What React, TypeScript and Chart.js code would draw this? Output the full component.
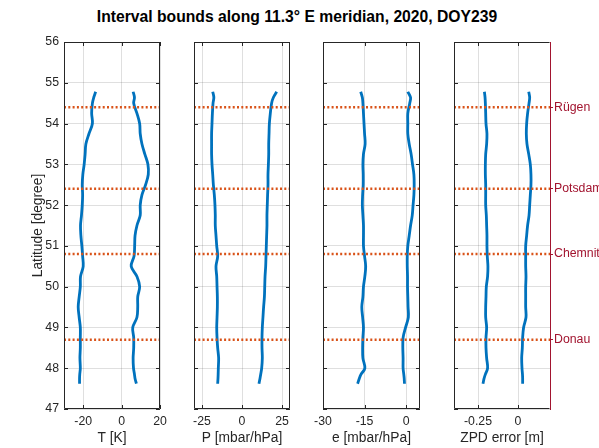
import React, { useEffect, useRef } from 'react';
import { Chart, registerables } from 'chart.js';

Chart.register(...registerables);

const W = 599;
const H = 448;

// Latitudes at which the bound curves were sampled
const LAT = [54.78, 54.64, 54.5, 54.25, 54.0, 53.75, 53.5, 53.25, 53.0, 52.75, 52.5, 52.25, 52.0, 51.75, 51.5, 51.25, 51.0, 50.75, 50.5, 50.25, 50.0, 49.75, 49.5, 49.25, 49.0, 48.75, 48.5, 48.25, 48.0, 47.85, 47.75, 47.62];

const T_LOW = [-13.5, -14.5, -15.2, -15.6, -15.2, -17.0, -18.6, -19.0, -19.5, -20.2, -20.5, -20.3, -20.5, -20.9, -21.4, -21.2, -20.7, -20.3, -20.0, -21.4, -21.5, -22.1, -22.6, -22.1, -21.5, -21.5, -21.5, -21.7, -21.5, -21.8, -21.9, -21.9];
const T_HIGH = [6.0, 6.7, 6.3, 8.0, 9.4, 9.7, 10.6, 12.1, 13.7, 13.9, 12.5, 10.6, 9.7, 9.7, 8.0, 7.0, 6.8, 6.5, 5.0, 8.0, 9.4, 8.4, 8.4, 8.0, 5.8, 6.3, 6.3, 6.0, 6.2, 6.7, 7.0, 7.7];

const P_LOW = [-18.3, -17.6, -18.1, -18.5, -18.75, -19.0, -19.0, -19.0, -18.75, -18.3, -17.9, -17.3, -16.9, -16.7, -16.7, -16.25, -15.8, -15.2, -16.25, -15.8, -15.6, -15.4, -15.4, -15.6, -15.8, -15.6, -15.2, -14.6, -14.8, -14.9, -15.0, -15.2];
const P_HIGH = [21.7, 19.6, 18.5, 17.7, 17.1, 16.9, 16.7, 16.7, 16.5, 16.25, 16.25, 16.0, 15.8, 15.6, 15.6, 15.4, 15.2, 15.0, 14.8, 14.4, 14.2, 14.0, 13.5, 13.1, 12.7, 12.5, 12.5, 12.7, 12.3, 11.7, 11.25, 10.6];

const E_LOW = [-16.4, -15.8, -15.6, -15.4, -15.2, -15.0, -14.8, -15.4, -15.6, -15.5, -15.5, -15.7, -15.8, -15.6, -15.4, -15.4, -15.4, -15.0, -14.6, -14.9, -15.4, -15.6, -16.0, -15.7, -15.4, -15.6, -15.7, -15.6, -14.9, -16.3, -16.9, -17.5];
const E_HIGH = [0.6, 1.6, 1.3, 0.6, 0.6, 0.6, 1.1, 1.8, 2.3, 2.8, 2.9, 2.8, 2.5, 2.2, 1.6, 1.1, 0.6, 0.4, 0.4, 0.5, 0.5, 0.6, 0.7, 0.8, -0.2, -1.1, -1.2, -1.1, -1.1, -0.85, -0.7, -0.6];

const ZPD_LOW = [-0.21, -0.206, -0.204, -0.202, -0.2, -0.194, -0.196, -0.202, -0.204, -0.204, -0.202, -0.202, -0.202, -0.198, -0.196, -0.194, -0.194, -0.192, -0.188, -0.19, -0.198, -0.2, -0.202, -0.202, -0.196, -0.2, -0.2, -0.196, -0.19, -0.204, -0.212, -0.219];
const ZPD_HIGH = [0.067, 0.073, 0.069, 0.06, 0.054, 0.052, 0.056, 0.067, 0.077, 0.081, 0.081, 0.077, 0.073, 0.069, 0.06, 0.054, 0.048, 0.048, 0.048, 0.05, 0.048, 0.048, 0.048, 0.05, 0.035, 0.029, 0.027, 0.023, 0.025, 0.028, 0.029, 0.029];

const STATION_LAT = [54.4, 52.4, 50.8, 48.7];
const STATION_NAMES = ['Rügen', 'Potsdam', 'Chemnitz', 'Donau'];

const Y_TICKS = [47, 48, 49, 50, 51, 52, 53, 54, 55, 56];
const Y_RANGE = [47, 56];

const T_TICKS = [-20, 0, 20];
const P_TICKS = [-25, 0, 25];
const E_TICKS = [-30, -15, 0];
const ZPD_TICKS = [-0.25, 0];

const T_RANGE = [-30, 20];
const P_RANGE = [-30, 30];
const E_RANGE = [-30, 5];
const ZPD_RANGE = [-0.4, 0.2];

const X_LABELS = ['T [K]', 'P [mbar/hPa]', 'e [mbar/hPa]', 'ZPD error [m]'];
const Y_LABEL = 'Latitude [degree]';
const TITLE = 'Interval bounds along 11.3° E meridian, 2020, DOY239';

const PANELS = [
  { low: T_LOW, high: T_HIGH, range: T_RANGE, ticks: T_TICKS },
  { low: P_LOW, high: P_HIGH, range: P_RANGE, ticks: P_TICKS },
  { low: E_LOW, high: E_HIGH, range: E_RANGE, ticks: E_TICKS },
  { low: ZPD_LOW, high: ZPD_HIGH, range: ZPD_RANGE, ticks: ZPD_TICKS },
];

// layout (pixel positions of each plot box)
const BOX_LEFT = [64, 194, 323, 454];
const BOX_RIGHT = [160, 290, 420, 550];
const BOX_TOP = 42;
const BOX_BOTTOM = 409;

const BLUE = '#0072BD';
const ORANGE = '#D95319';
const CRIMSON = '#A2142F';
const AXIS = '#262626';
const GRID = 'rgba(38,38,38,0.15)';
const FONT = '"Liberation Sans", Arial, Helvetica, sans-serif';

const framePlugin = {
  id: 'frame',
  afterDraw(chart: any, _args: any, opts: any) {
    const { ctx, chartArea } = chart;
    const { left, right, top, bottom } = chartArea;
    const xs = chart.scales.x;
    const ys = chart.scales.y;
    const L = 4;
    ctx.save();
    ctx.strokeStyle = AXIS;
    ctx.lineWidth = 1;
    ctx.beginPath();
    for (const t of xs.ticks) {
      const px = Math.round(xs.getPixelForValue(t.value)) + 0.5;
      ctx.moveTo(px, bottom);
      ctx.lineTo(px, bottom - L);
      ctx.moveTo(px, top);
      ctx.lineTo(px, top + L);
    }
    for (const t of ys.ticks) {
      const py = Math.round(ys.getPixelForValue(t.value)) + 0.5;
      ctx.moveTo(left, py);
      ctx.lineTo(left + L, py);
      if (!opts.noRight) {
        ctx.moveTo(right, py);
        ctx.lineTo(right - L, py);
      }
    }
    const l = Math.round(left) + 0.5;
    const r = Math.round(right) - 0.5;
    const t = Math.round(top) + 0.5;
    const b = Math.round(bottom) - 0.5;
    ctx.moveTo(l, b);
    ctx.lineTo(l, t);
    ctx.lineTo(r, t);
    if (!opts.noRight) ctx.lineTo(r, b);
    ctx.moveTo(l, b);
    ctx.lineTo(r, b);
    ctx.stroke();
    ctx.restore();
  },
};

function Panel({ idx }: { idx: number }) {
  const ref = useRef<HTMLCanvasElement | null>(null);
  useEffect(() => {
    const p = PANELS[idx];
    const first = idx === 0;
    const last = idx === PANELS.length - 1;
    const yWidth = first ? BOX_LEFT[0] : 0;
    const y2Width = last ? W - BOX_RIGHT[idx] : 0;
    const toPts = (vals: number[]) => vals.map((v, i) => ({ x: v, y: LAT[i] }));

    const datasets: any[] = [
      ...STATION_LAT.map((lat) => ({
        data: [
          { x: p.range[0], y: lat },
          { x: p.range[1], y: lat },
        ],
        borderColor: ORANGE,
        borderWidth: 2.5,
        borderDash: [2, 2.3],
        showLine: true,
        pointRadius: 0,
        tension: 0,
        order: 0,
      })),
      {
        data: toPts(p.low),
        borderColor: BLUE,
        borderWidth: 2.8,
        showLine: true,
        pointRadius: 0,
        tension: 0.35,
        order: 1,
      },
      {
        data: toPts(p.high),
        borderColor: BLUE,
        borderWidth: 2.8,
        showLine: true,
        pointRadius: 0,
        tension: 0.35,
        order: 1,
      },
    ];

    const scales: any = {
      x: {
        type: 'linear',
        min: p.range[0],
        max: p.range[1],
        afterBuildTicks: (s: any) => {
          s.ticks = p.ticks.map((v) => ({ value: v }));
        },
        afterFit: (s: any) => {
          s.height = H - BOX_BOTTOM;
        },
        grid: { color: GRID, drawTicks: false, lineWidth: 1 },
        border: { display: false },
        ticks: {
          color: AXIS,
          font: { family: FONT, size: 12.3 },
          padding: 5,
          maxRotation: 0,
          autoSkip: false,
          callback: (v: any) => String(v),
        },
        title: {
          display: true,
          text: X_LABELS[idx],
          color: AXIS,
          font: { family: FONT, size: 13.8 },
          padding: { top: 0, bottom: 2 },
        },
      },
      y: {
        type: 'linear',
        min: Y_RANGE[0],
        max: Y_RANGE[1],
        afterBuildTicks: (s: any) => {
          s.ticks = Y_TICKS.map((v) => ({ value: v }));
        },
        afterFit: (s: any) => {
          s.width = yWidth;
        },
        grid: { color: GRID, drawTicks: false, lineWidth: 1 },
        border: { display: false },
        ticks: {
          display: first,
          color: AXIS,
          font: { family: FONT, size: 12.3 },
          padding: 5,
          callback: (v: any) => String(v),
        },
        title: {
          display: first,
          text: Y_LABEL,
          color: AXIS,
          font: { family: FONT, size: 13.8 },
          padding: { top: 30, bottom: 0 },
        },
      },
    };

    if (last) {
      scales.y2 = {
        type: 'linear',
        position: 'right',
        min: Y_RANGE[0],
        max: Y_RANGE[1],
        afterBuildTicks: (s: any) => {
          s.ticks = STATION_LAT.map((v) => ({ value: v }));
        },
        afterFit: (s: any) => {
          s.width = y2Width;
        },
        grid: { drawOnChartArea: false, color: CRIMSON, tickLength: 3, lineWidth: 1 },
        border: { display: true, color: CRIMSON, width: 1 },
        ticks: {
          color: CRIMSON,
          font: { family: FONT, size: 12.3 },
          padding: 1,
          autoSkip: false,
          callback: (v: any) => STATION_NAMES[STATION_LAT.indexOf(v)],
        },
      };
    }

    const chart = new Chart(ref.current as HTMLCanvasElement, {
      type: 'scatter',
      data: { datasets },
      options: {
        responsive: false,
        animation: false,
        devicePixelRatio: 1,
        layout: {
          padding: {
            left: BOX_LEFT[idx] - yWidth,
            right: W - BOX_RIGHT[idx] - y2Width,
            top: BOX_TOP,
            bottom: 0,
          },
        },
        plugins: {
          legend: { display: false },
          tooltip: { enabled: false },
          title: { display: false },
          frame: { noRight: last },
        } as any,
        scales,
      },
      plugins: [framePlugin],
    } as any);
    return () => chart.destroy();
  }, [idx]);

  return (
    <canvas
      ref={ref}
      width={W}
      height={H}
      style={{ position: 'absolute', left: 0, top: 0, width: W, height: H }}
    />
  );
}

export default function App() {
  return (
    <div
      style={{
        position: 'fixed',
        left: 0,
        top: 0,
        width: W,
        height: H,
        background: '#ffffff',
        overflow: 'hidden',
      }}
    >
      <div
        style={{
          position: 'absolute',
          left: 0,
          top: 7,
          width: 594,
          textAlign: 'center',
          fontFamily: FONT,
          fontWeight: 'bold',
          fontSize: 15.7,
          color: '#000000',
          lineHeight: '20px',
          whiteSpace: 'nowrap',
        }}
      >
        {TITLE}
      </div>
      {PANELS.map((_, i) => (
        <Panel key={i} idx={i} />
      ))}
    </div>
  );
}
